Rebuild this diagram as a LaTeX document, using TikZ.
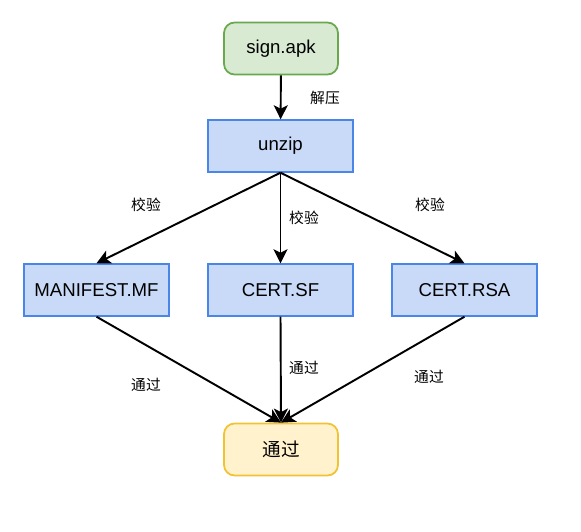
\documentclass[tikz,border=0pt]{standalone}
\usepackage{fontspec}
\setmainfont{Liberation Sans}
\newfontfamily\cjkfont{Noto Sans CJK SC}
\usepackage{xcolor}
\usetikzlibrary{arrows.meta, calc}

\definecolor{apkfill}{HTML}{D9EAD3}
\definecolor{apkline}{HTML}{6AA84F}
\definecolor{filefill}{HTML}{C9DAF8}
\definecolor{fileline}{HTML}{4A86E8}
\definecolor{passfill}{HTML}{FFF2CC}
\definecolor{passline}{HTML}{F1C232}

\tikzset{
  filebox/.style={draw=fileline, fill=filefill, thick, minimum width=2.9cm, minimum height=1.04cm, font=\fontsize{10.6}{12}\selectfont},
  apkbox/.style={filebox, draw=apkline, fill=apkfill, rounded corners=6pt, minimum width=2.28cm, line width=1pt},
  passbox/.style={apkbox, draw=passline, fill=passfill},
  lbl/.style={font=\cjkfont\fontsize{8.4}{10}\selectfont},
  flow/.style={line width=1.1pt, -{Stealth[length=8pt, width=8pt, inset=2pt]}}
}

\begin{document}
\begin{tikzpicture}[x=0.02cm, y=-0.02cm]
  \useasboundingbox (0,0) rectangle (581,531);

  % Top: package and unpacking
  \node[apkbox] (apk) at (281,48.5) {sign.apk};
  \node[filebox] (unzip) at (280.5,146) {unzip};

  % Files checked
  \node[filebox] (mf) at (96.5,290) {MANIFEST.MF};
  \node[filebox] (sf) at (280.5,290) {CERT.SF};
  \node[filebox] (rsa) at (464.5,290) {CERT.RSA};

  % Result
  \node[passbox] (pass) at (281,449.5) {\cjkfont 通过};

  % Arrows
  \draw[flow] (apk) -- (unzip);
  \draw[flow] (unzip.south) -- (mf.north);
  \draw[flow] (unzip.south) -- (sf.north);
  \draw[flow] (unzip.south) -- (rsa.north);
  \draw[flow] (mf.south) -- (pass.north);
  \draw[flow] (sf.south) -- (pass.north);
  \draw[flow] (rsa.south) -- (pass.north);

  % Labels
  \node[lbl] (lunzip) at (325,98) {解压};
  \node[lbl] (lmf) at (146,205) {校验};
  \node[lbl] (lsf) at (304,218) {校验};
  \node[lbl] (lrsa) at (430,205) {校验};
  \node[lbl] (pmf) at (146,385) {通过};
  \node[lbl] (psf) at (304,368) {通过};
  \node[lbl] (prsa) at (429,377) {通过};
\end{tikzpicture}
\end{document}
